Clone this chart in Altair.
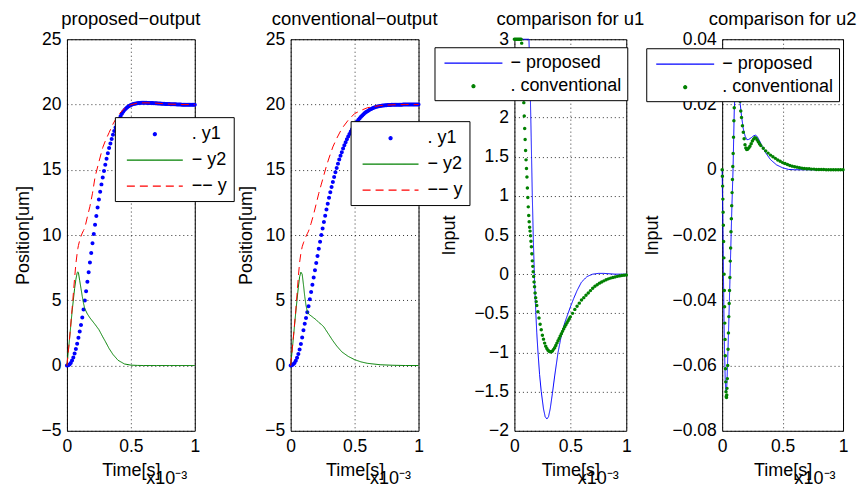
import altair as alt
import pandas as pd

FONT = "Liberation Sans"
BLUE = "#0000ff"
GREEN = "#008000"
RED = "#ff0000"

# ---------------- data (time in units of 1e-3 s) ----------------
T_DOT = [0.00, 0.01, 0.02, 0.03, 0.04, 0.05, 0.06, 0.07, 0.08, 0.09,
         0.10, 0.11, 0.12, 0.13, 0.14, 0.15, 0.16, 0.17, 0.18, 0.19,
         0.20, 0.21, 0.22, 0.23, 0.24, 0.25, 0.26, 0.27, 0.28, 0.29,
         0.30, 0.31, 0.32, 0.33, 0.34, 0.35, 0.36, 0.37, 0.38, 0.39,
         0.40, 0.41, 0.42, 0.43, 0.44, 0.45, 0.46, 0.47, 0.48, 0.49,
         0.50, 0.51, 0.52, 0.53, 0.54, 0.55, 0.56, 0.57, 0.58, 0.59,
         0.60, 0.61, 0.62, 0.63, 0.64, 0.65, 0.66, 0.67, 0.68, 0.69,
         0.70, 0.71, 0.72, 0.73, 0.74, 0.75, 0.76, 0.77, 0.78, 0.79,
         0.80, 0.81, 0.82, 0.83, 0.84, 0.85, 0.86, 0.87, 0.88, 0.89,
         0.90, 0.91, 0.92, 0.93, 0.94, 0.95, 0.96, 0.97, 0.98, 0.99, 1.00]

# proposed output y1 (dots)
PROP_Y1 = [0.0, 0.02, 0.08, 0.2, 0.38, 0.62, 0.92, 1.27, 1.67, 2.12,
           2.6, 3.1, 3.68, 4.3, 4.98, 5.7, 6.42, 7.15, 7.9, 8.62,
           9.36, 10.08, 10.78, 11.45, 12.1, 12.73, 13.32, 13.88, 14.4, 14.9,
           15.38, 15.84, 16.26, 16.66, 17.02, 17.36, 17.68, 17.97, 18.24, 18.49,
           18.72, 18.93, 19.12, 19.29, 19.44, 19.57, 19.68, 19.77, 19.85, 19.91,
           19.96, 20.0, 20.03, 20.06, 20.08, 20.1, 20.11, 20.12, 20.13, 20.13,
           20.13, 20.13, 20.13, 20.12, 20.12, 20.12, 20.11, 20.11, 20.1, 20.1,
           20.09, 20.08, 20.08, 20.07, 20.06, 20.06, 20.05, 20.04, 20.04, 20.03,
           20.03, 20.02, 20.02, 20.01, 20.01, 20.01, 20.0, 20.0, 20.0, 20.0,
           19.99, 19.99, 19.99, 19.99, 19.99, 19.99, 19.99, 19.99, 19.99, 19.99, 19.99]

T_LINE_P = [0.0, 0.02, 0.04, 0.06, 0.07, 0.08, 0.085, 0.09, 0.10, 0.11, 0.12, 0.13,
            0.14, 0.16, 0.18, 0.20, 0.22, 0.25, 0.28, 0.30, 0.33, 0.36, 0.40, 0.45,
            0.50, 0.55, 0.60, 0.65, 0.70, 0.80, 0.90, 1.00]
PROP_Y2 = [0.0, 2.0, 4.1, 5.9, 6.6, 7.1, 7.18, 7.12, 6.5, 5.9, 5.3, 4.75,
           4.35, 3.95, 3.65, 3.4, 3.15, 2.75, 2.2, 1.85, 1.3, 0.85, 0.4, 0.12,
           0.03, 0.01, 0.0, 0.0, 0.0, 0.0, 0.0, 0.0]
PROP_Y = [0.0, 2.0, 4.3, 6.7, 7.8, 8.6, 8.95, 9.2, 9.6, 9.9, 10.15, 10.35,
          10.55, 11.4, 12.2, 13.2, 14.45, 15.6, 16.7, 17.2, 17.85, 18.5, 19.2, 19.7,
          19.98, 20.1, 20.13, 20.12, 20.1, 20.03, 20.0, 19.99]

# conventional output y1 (dots)
CONV_Y1 = [0.0, 0.02, 0.09, 0.2, 0.37, 0.6, 0.88, 1.22, 1.65, 2.15,
           2.7, 3.2, 3.65, 4.08, 4.55, 5.08, 5.63, 6.18, 6.74, 7.3,
           7.85, 8.4, 8.94, 9.48, 10.0, 10.5, 11.0, 11.48, 11.95, 12.4,
           12.85, 13.27, 13.68, 14.07, 14.44, 14.8, 15.14, 15.47, 15.78, 16.07,
           16.35, 16.62, 16.87, 17.11, 17.33, 17.54, 17.74, 17.93, 18.1, 18.27,
           18.42, 18.57, 18.7, 18.83, 18.95, 19.06, 19.16, 19.25, 19.34, 19.42,
           19.49, 19.55, 19.61, 19.66, 19.71, 19.75, 19.79, 19.82, 19.85, 19.87,
           19.89, 19.91, 19.92, 19.93, 19.94, 19.95, 19.96, 19.965, 19.97, 19.975,
           19.98, 19.98, 19.985, 19.985, 19.99, 19.99, 19.99, 19.99, 19.995, 19.995,
           19.995, 20.0, 20.0, 20.0, 20.0, 20.0, 20.0, 20.0, 20.0, 20.0, 20.0]

T_LINE_C = [0.0, 0.02, 0.04, 0.06, 0.07, 0.08, 0.09, 0.10, 0.11, 0.12, 0.13, 0.14,
            0.16, 0.18, 0.20, 0.22, 0.24, 0.26, 0.28, 0.30, 0.33, 0.36, 0.40, 0.45,
            0.50, 0.55, 0.60, 0.70, 0.80, 0.90, 1.00]
CONV_Y2 = [0.0, 2.0, 4.1, 6.0, 6.8, 7.15, 7.0, 6.2, 5.3, 4.6, 4.15, 3.95,
           3.8, 3.65, 3.5, 3.3, 3.15, 2.95, 2.65, 2.35, 1.9, 1.5, 1.05, 0.7,
           0.45, 0.28, 0.17, 0.06, 0.02, 0.0, 0.0]
CONV_Y = [0.0, 2.05, 4.2, 6.8, 7.9, 8.6, 9.1, 9.4, 9.65, 9.9, 10.1, 10.3,
          10.9, 11.6, 12.4, 13.2, 13.9, 14.6, 15.3, 15.9, 16.75, 17.4, 18.15, 18.8,
          19.3, 19.55, 19.75, 19.92, 19.98, 20.0, 20.0]

# u1 comparison
T_U1P = [0.0, 0.13, 0.135, 0.14, 0.15, 0.16, 0.17, 0.18, 0.19, 0.20, 0.21, 0.225,
         0.24, 0.26, 0.275, 0.29, 0.305, 0.32, 0.34, 0.36, 0.39, 0.42, 0.45, 0.48,
         0.50, 0.53, 0.56, 0.60, 0.65, 0.70, 0.75, 0.80, 0.90, 1.00]
U1_PROP = [3.0, 3.0, 2.75, 2.45, 1.75, 1.0, 0.4, -0.08, -0.45, -0.75, -0.98, -1.28,
           -1.5, -1.72, -1.82, -1.85, -1.82, -1.72, -1.52, -1.3, -1.0, -0.78, -0.62, -0.5,
           -0.42, -0.31, -0.21, -0.1, -0.03, 0.0, 0.01, 0.01, 0.0, 0.0]

T_U1C = [0.000, 0.010, 0.020, 0.030, 0.040, 0.050, 0.060,
         0.065, 0.070, 0.075, 0.080, 0.084, 0.088, 0.092, 0.096, 0.100, 0.104,
         0.108, 0.112, 0.116, 0.120, 0.124, 0.128, 0.132, 0.136, 0.140, 0.144,
         0.148, 0.152, 0.156, 0.160, 0.164, 0.168, 0.172, 0.176, 0.180, 0.185,
         0.190, 0.195, 0.200,
         0.21, 0.22, 0.23, 0.24, 0.25, 0.26, 0.27, 0.28, 0.29, 0.30,
         0.31, 0.32, 0.33, 0.34, 0.35, 0.36, 0.37, 0.38, 0.39, 0.40,
         0.41, 0.42, 0.43, 0.44, 0.45, 0.46, 0.47, 0.48, 0.49, 0.50,
         0.52, 0.54, 0.56, 0.58, 0.60, 0.62, 0.64, 0.66, 0.68, 0.70,
         0.72, 0.74, 0.76, 0.78, 0.80, 0.82, 0.84, 0.86, 0.88, 0.90,
         0.92, 0.94, 0.96, 0.98, 1.00]
U1_CONV = [3.0, 3.0, 3.0, 3.0, 3.0, 3.0, 3.0,
           2.95, 2.75, 2.55, 2.35, 2.19, 2.02, 1.86, 1.72, 1.58, 1.46,
           1.35, 1.24, 1.1, 0.98, 0.86, 0.75, 0.67, 0.6, 0.55, 0.49,
           0.42, 0.35, 0.26, 0.17, 0.1, 0.03, -0.03, -0.1, -0.16, -0.24,
           -0.3, -0.35, -0.4,
           -0.48, -0.56, -0.64, -0.71, -0.78, -0.83, -0.88, -0.92, -0.95, -0.97,
           -0.985, -0.99, -0.99, -0.98, -0.96, -0.94, -0.91, -0.88, -0.85, -0.82,
           -0.79, -0.76, -0.73, -0.70, -0.67, -0.645, -0.62, -0.595, -0.57, -0.545,
           -0.5, -0.45, -0.41, -0.37, -0.33, -0.3, -0.27, -0.24, -0.21, -0.18,
           -0.155, -0.135, -0.115, -0.1, -0.085, -0.072, -0.06, -0.05, -0.042, -0.035,
           -0.028, -0.022, -0.017, -0.013, -0.01]

# u2 comparison
T_U2P = [0.0, 0.005, 0.01, 0.015, 0.02, 0.025, 0.03, 0.035, 0.04, 0.05, 0.06, 0.07,
         0.08, 0.09, 0.10, 0.11, 0.12, 0.13, 0.14, 0.15, 0.16, 0.175, 0.19, 0.205,
         0.22, 0.24, 0.26, 0.275, 0.29, 0.31, 0.33, 0.36, 0.40, 0.45, 0.50, 0.55,
         0.60, 0.70, 0.80, 0.90, 1.00]
U2_PROP = [0.0, -0.015, -0.03, -0.045, -0.056, -0.064, -0.068, -0.068, -0.065, -0.053, -0.04, -0.026,
           -0.012, 0.0, 0.018, 0.026, 0.029, 0.028, 0.024, 0.02, 0.0165, 0.0125, 0.0103, 0.0092,
           0.0093, 0.0098, 0.0104, 0.0106, 0.0102, 0.0088, 0.0072, 0.0052, 0.0031, 0.0015, 0.0006, 0.0001,
           0.0, 0.0, 0.0, 0.0, 0.0]

T_U2C = [0.000, 0.002, 0.004, 0.006, 0.008, 0.010, 0.012, 0.014, 0.016, 0.018,
         0.020, 0.022, 0.024, 0.026, 0.028, 0.030, 0.032, 0.034, 0.036, 0.038, 0.040,
         0.043, 0.046, 0.049, 0.052, 0.055, 0.058, 0.061, 0.064, 0.067, 0.070,
         0.073, 0.076, 0.079, 0.082, 0.085, 0.088, 0.091, 0.094, 0.097, 0.100,
         0.104, 0.108, 0.112,
         0.118, 0.124, 0.130, 0.136, 0.142, 0.148, 0.154, 0.160,
         0.168, 0.175, 0.182, 0.189, 0.196, 0.203, 0.210,
         0.22, 0.23, 0.24, 0.25, 0.26, 0.27, 0.28, 0.29, 0.30, 0.31, 0.32,
         0.34, 0.36, 0.38, 0.40, 0.42, 0.44, 0.46, 0.48, 0.50, 0.52,
         0.54, 0.56, 0.58, 0.60, 0.62, 0.64, 0.66, 0.68, 0.70, 0.72,
         0.74, 0.76, 0.78, 0.80, 0.82, 0.84, 0.86, 0.88, 0.90, 0.92,
         0.94, 0.96, 0.98, 1.00]
U2_CONV = [0.0, -0.002, -0.005, -0.009, -0.013, -0.017, -0.022, -0.027, -0.032, -0.037,
           -0.042, -0.047, -0.052, -0.057, -0.061, -0.065, -0.068, -0.0695, -0.0698, -0.069, -0.067,
           -0.064, -0.06, -0.055, -0.05, -0.045, -0.041, -0.037, -0.033, -0.028, -0.024,
           -0.019, -0.015, -0.011, -0.007, -0.003, 0.001, 0.005, 0.01, 0.015, 0.019,
           0.023, 0.026, 0.028,
           0.029, 0.029, 0.028, 0.026, 0.023, 0.021, 0.018, 0.016,
           0.0135, 0.0115, 0.0095, 0.0077, 0.0067, 0.0062, 0.0063,
           0.0067, 0.0072, 0.008, 0.0088, 0.0094, 0.0098, 0.0097, 0.0091, 0.0085, 0.0079, 0.0074,
           0.0066, 0.0058, 0.0051, 0.0045, 0.004, 0.0035, 0.003, 0.0026, 0.0022, 0.0019,
           0.0016, 0.0013, 0.0011, 0.0009, 0.0008, 0.0006, 0.0005, 0.0004, 0.0003, 0.0003,
           0.0002, 0.0002, 0.0001, 0.0001, 0.0001, 0.0001, 0.0, 0.0, 0.0, 0.0,
           0.0, 0.0, 0.0, 0.0]

OUT_LABELS = [". y1", "\u2212 y2", "\u2212\u2212 y"]
CMP_LABELS = ["\u2212 proposed", ". conventional"]

Y_OUT_TICKS = [-5, 0, 5, 10, 15, 20, 25]
Y_U1_TICKS = [-2, -1.5, -1, -0.5, 0, 0.5, 1, 1.5, 2, 2.5, 3]
Y_U2_TICKS = [-0.08, -0.06, -0.04, -0.02, 0, 0.02, 0.04]
X_TICKS = [0, 0.5, 1]

# ---------------- styling helpers ----------------
DOT_PATH = "M0,-0.15A0.15,0.15 0 1,1 0,0.15A0.15,0.15 0 1,1 0,-0.15Z"
H = 392


def frame(rows):
    return pd.DataFrame(rows, columns=["t", "v", "series"])


def legend(lx, ly, pad, rowpad):
    return alt.Legend(
        title=None, orient="none", legendX=lx, legendY=ly,
        fillColor="white", strokeColor="black", padding=pad, rowPadding=rowpad,
        labelFont=FONT, labelFontSize=18, labelColor="black",
        symbolSize=400, symbolOffset=23, labelOffset=26, symbolStrokeWidth=1.2,
        labelLimit=300,
    )


def x_axes(width):
    sc = alt.Scale(domain=[0, 1], nice=False, zero=False)
    main = alt.X("t:Q", scale=sc, axis=alt.Axis(
        orient="bottom", values=X_TICKS, format="~g", title="Time[s]", titleY=45,
        titleBaseline="alphabetic", labelPadding=7, labelFlush=False, grid=True))
    exp = alt.X("t:Q", scale=sc, axis=alt.Axis(
        orient="bottom", title="x10\u207b\u00b3", labels=False, ticks=False, domain=False,
        grid=False, titleX=width - 8, titleY=53, titleAlign="right",
        titleBaseline="alphabetic"))
    return main, exp


def y_enc(domain, ticks, title, tpad):
    return alt.Y("v:Q", scale=alt.Scale(domain=domain, nice=False, zero=False),
                 axis=alt.Axis(values=ticks, format="~g", title=title, titlePadding=tpad,
                               labelPadding=6, labelFlush=False, labelOverlap=False, grid=True))


def title(text):
    return alt.TitleParams(text=text, frame="group", offset=-13, baseline="alphabetic",
                           font=FONT, fontSize=18.5, fontWeight="normal", color="black",
                           anchor="middle")


def output_panel(name, y1, t_line, y2, yy, lx, ly, width):
    dots = frame([(t, v, OUT_LABELS[0]) for t, v in zip(T_DOT, y1)])
    lines = frame([(t, v, OUT_LABELS[1]) for t, v in zip(t_line, y2)] +
                  [(t, v, OUT_LABELS[2]) for t, v in zip(t_line, yy)])
    leg = legend(lx, ly, 6, 6)
    line_path = "M-2.8,0H2.8"
    xm, xe = x_axes(width)
    y = y_enc([-5, 25], Y_OUT_TICKS, "Position[um]", 9)
    pts = alt.Chart(dots).mark_point(filled=True, size=711, opacity=1, strokeWidth=0).encode(
        x=xm, y=y,
        fill=alt.Fill("series:N", scale=alt.Scale(domain=OUT_LABELS, range=[BLUE, GREEN, RED]), legend=leg),
        shape=alt.Shape("series:N", scale=alt.Scale(domain=OUT_LABELS, range=[DOT_PATH, line_path, line_path]), legend=leg),
    )
    lns = alt.Chart(lines).mark_line(strokeWidth=1).encode(
        x=xe, y=y,
        stroke=alt.Stroke("series:N", scale=alt.Scale(domain=OUT_LABELS, range=[BLUE, GREEN, RED]), legend=leg),
        strokeDash=alt.StrokeDash("series:N", scale=alt.Scale(domain=OUT_LABELS, range=[[1, 0], [1, 0], [8, 5]]), legend=leg),
    )
    return alt.layer(pts, lns).resolve_axis(x="independent").properties(
        width=width, height=H, title=title(name))


def compare_panel(name, t_p, u_p, t_c, u_c, domain, ticks, tpad, lx, ly, width):
    prop = frame([(t, v, CMP_LABELS[0]) for t, v in zip(t_p, u_p)])
    conv = frame([(t, v, CMP_LABELS[1]) for t, v in zip(t_c, u_c)])
    leg = legend(lx, ly, 5, 3)
    line_path = "M-2.9,0H2.9"
    xm, xe = x_axes(width)
    y = y_enc(domain, ticks, "Input", tpad)
    lns = alt.Chart(prop).mark_line(strokeWidth=1).encode(
        x=xm, y=y,
        stroke=alt.Stroke("series:N", scale=alt.Scale(domain=CMP_LABELS, range=[BLUE, GREEN]), legend=leg),
        strokeDash=alt.StrokeDash("series:N", scale=alt.Scale(domain=CMP_LABELS, range=[[1, 0], [1, 0]]), legend=leg),
    )
    pts = alt.Chart(conv).mark_point(filled=True, size=514, opacity=1, strokeWidth=0).encode(
        x=xe, y=y,
        fill=alt.Fill("series:N", scale=alt.Scale(domain=CMP_LABELS, range=[BLUE, GREEN]), legend=leg),
        shape=alt.Shape("series:N", scale=alt.Scale(domain=CMP_LABELS, range=[line_path, DOT_PATH]), legend=leg),
    )
    return alt.layer(lns, pts).resolve_axis(x="independent").properties(
        width=width, height=H, title=title(name))


p1 = output_panel("proposed\u2212output", PROP_Y1, T_LINE_P, PROP_Y2, PROP_Y, 48, 78, 128)
p2 = output_panel("conventional\u2212output", CONV_Y1, T_LINE_C, CONV_Y2, CONV_Y, 60, 82, 128)
p3 = compare_panel("comparison for u1", T_U1P, U1_PROP, T_U1C, U1_CONV, [-2, 3], Y_U1_TICKS, 15, -80, 8, 112)
p4 = compare_panel("comparison for u2", T_U2P, U2_PROP, T_U2C, U2_CONV, [-0.08, 0.04], Y_U2_TICKS, 10, -76, 9, 121)

chart = alt.hconcat(p1, p2, p3, p4, spacing=96, bounds="flush").resolve_scale(
    fill="independent", shape="independent", stroke="independent", strokeDash="independent",
    y="independent", x="independent"
).resolve_legend(
    fill="independent", shape="independent", stroke="independent", strokeDash="independent"
).properties(
    padding={"left": 5, "top": 1, "right": 0, "bottom": 0}
).configure_view(
    stroke="black", strokeWidth=1
).configure_axis(
    labelFont=FONT, labelFontSize=17.5, labelColor="black",
    titleFont=FONT, titleFontSize=18, titleFontWeight="normal", titleColor="black",
    ticks=False, domain=False,
    gridColor="black", gridDash=[1, 3], gridOpacity=0.8, gridWidth=1,
)

chart.save("out.html", embed_options={"renderer": "svg", "actions": False})
